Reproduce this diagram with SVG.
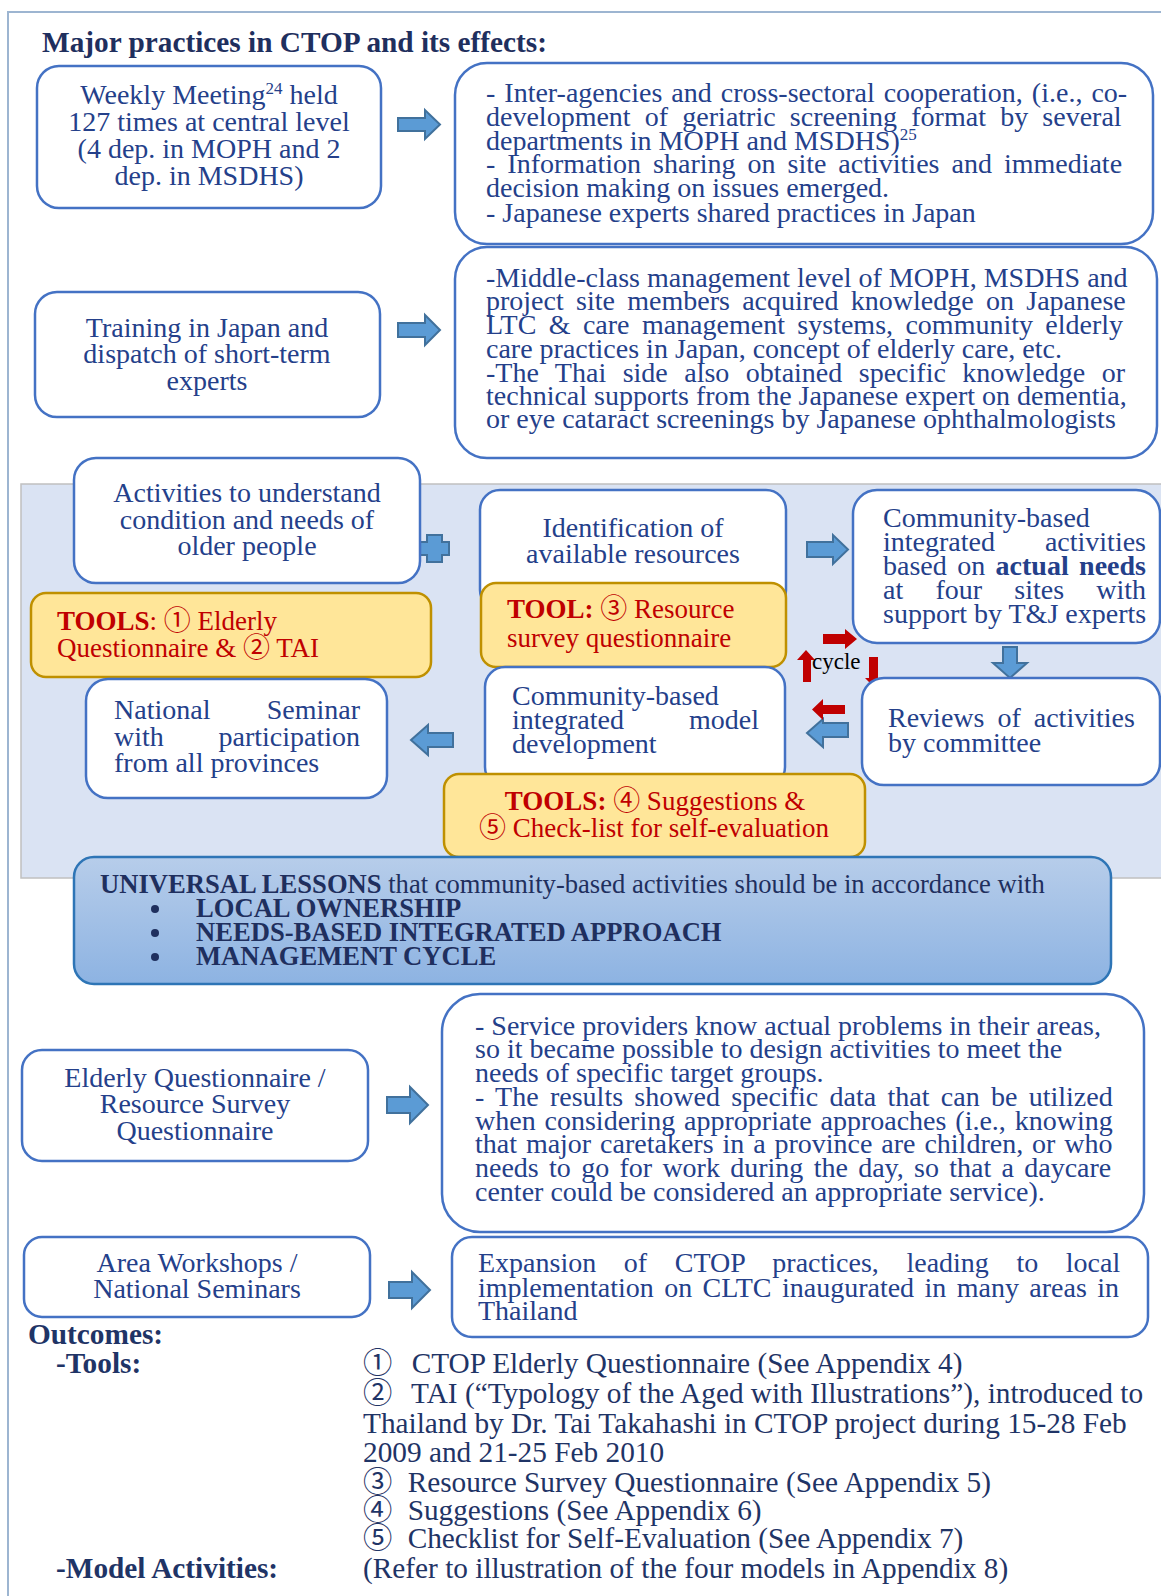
<svg xmlns="http://www.w3.org/2000/svg" width="1161" height="1596" viewBox="0 0 1161 1596">
  <defs>
    <linearGradient id="lessonFill" x1="0" y1="0" x2="0" y2="1">
      <stop offset="0" stop-color="#B7CDEA"/>
      <stop offset="1" stop-color="#8DB3E2"/>
    </linearGradient>
    <style>
      text { font-family: "Liberation Serif", "Noto Sans CJK JP", serif; }
      .box { fill: #FFFFFF; stroke: #4472C4; stroke-width: 2.5; }
      .tool { fill: #FFE699; stroke: #BF9000; stroke-width: 2.5; }
      .t { font-size: 28px; fill: #24408A; }
      .c { text-anchor: middle; }
      .e { text-anchor: end; }
      .red { font-size: 27px; fill: #C00000; }
      .b { font-weight: bold; }
      .barrow { fill: #5B9BD5; stroke: #41719C; stroke-width: 2; stroke-linejoin: miter; }
      .rarrow { fill: #C00000; stroke: none; }
      .navy { fill: #1F2F5E; }
      .out { font-size: 29.3px; fill: #1F3466; }
      .sup { font-size: 17px; }
    </style>
  </defs>

  <rect width="1161" height="1596" fill="#FFFFFF"/>

  <!-- frame -->
  <path d="M8 1596 V12 H1161" fill="none" stroke="#9DB5D1" stroke-width="2"/>

  <!-- heading -->
  <text x="42" y="52" class="b navy" font-size="29.3">Major practices in CTOP and its effects:</text>

  <!-- shaded band behind the activity cycle -->
  <rect x="21" y="484" width="1145" height="394" fill="#DAE3F3" stroke="#C0C0C0" stroke-width="1.5"/>

  <!-- connectors -->
  <g id="connectors">
    <!-- weekly meeting -> effects -->
    <path class="barrow" d="M398 118 H425 V110 L440 124.5 L425 139 V131 H398 Z"/>
    <!-- training -> effects -->
    <path class="barrow" d="M398 323 H425 V315 L440 330 L425 345 V337 H398 Z"/>
    <!-- plus between understanding and identification -->
    <path class="barrow" d="M427 535 H442 V542 H449 V555 H442 V562 H427 V555 H418 V542 H427 Z"/>
    <!-- identification -> activities -->
    <path class="barrow" d="M807 542 H833 V535 L848 549.5 L833 564 V557 H807 Z"/>
    <!-- activities -> reviews -->
    <path class="barrow" d="M1003 647 H1017 V663 H1027 L1010 678 L993 663 H1003 Z"/>
    <!-- reviews -> model development -->
    <path class="barrow" d="M848 723 H823 V719 L807 733 L823 747 V737 H848 Z"/>
    <!-- model development -> national seminar -->
    <path class="barrow" d="M453 733 H428 V725 L411 740 L428 755 V747 H453 Z"/>
    <!-- elderly questionnaire -> results -->
    <path class="barrow" d="M387 1097 H410 V1087 L428 1105 L410 1123 V1113 H387 Z"/>
    <!-- area workshops -> expansion -->
    <path class="barrow" d="M389 1282 H412 V1272 L430 1290 L412 1308 V1298 H389 Z"/>

    <!-- management cycle (red) -->
    <path class="rarrow" d="M823 634 H845 V629 L857 639 L845 649 V644 H823 Z"/>
    <path class="rarrow" d="M869 657 H878 V678 H883 L874 687 L865 678 H869 Z"/>
    <path class="rarrow" d="M845 705 H823 V699 L812 709.5 L823 720 V714 H845 Z"/>
    <path class="rarrow" d="M803 682 H811 V660 H815 L806 650 L797 660 H803 Z"/>
    <text x="812" y="669" font-size="23" fill="#000000">cycle</text>
  </g>

  <!-- weekly meeting -->
  <g id="weekly-meeting">
    <rect class="box" x="37" y="66" width="344" height="142" rx="22"/>
    <text class="t c" x="209" y="104">Weekly Meeting<tspan class="sup" dy="-10">24</tspan><tspan dy="10"> held</tspan></text>
    <text class="t c" x="209" y="131">127 times at central level</text>
    <text class="t c" x="209" y="158">(4 dep. in MOPH and 2</text>
    <text class="t c" x="209" y="185">dep. in MSDHS)</text>
  </g>

  <!-- weekly meeting effects -->
  <g id="meeting-effects">
    <rect class="box" x="455" y="63" width="698" height="181" rx="32"/>
    <text class="t" x="486" y="102" word-spacing="2">- Inter-agencies and cross-sectoral cooperation, (i.e., co-</text>
    <text class="t" x="486" y="126" word-spacing="7.2">development of geriatric screening format by several</text>
    <text class="t" x="486" y="150">departments in MOPH and MSDHS)<tspan class="sup" dy="-10">25</tspan></text>
    <text class="t" x="486" y="173" word-spacing="5">- Information sharing on site activities and immediate</text>
    <text class="t" x="486" y="197">decision making on issues emerged.</text>
    <text class="t" x="486" y="222">- Japanese experts shared practices in Japan</text>
  </g>

  <!-- training -->
  <g id="training">
    <rect class="box" x="35" y="292" width="345" height="125" rx="22"/>
    <text class="t c" x="207" y="337">Training in Japan and</text>
    <text class="t c" x="207" y="363">dispatch of short-term</text>
    <text class="t c" x="207" y="390">experts</text>
  </g>

  <!-- training effects -->
  <g id="training-effects">
    <rect class="box" x="455" y="247" width="702" height="211" rx="32"/>
    <text class="t" x="486" y="287">-Middle-class management level of MOPH, MSDHS and</text>
    <text class="t" x="486" y="310" word-spacing="5.3">project site members acquired knowledge on Japanese</text>
    <text class="t" x="486" y="334" word-spacing="5.4">LTC &amp; care management systems, community elderly</text>
    <text class="t" x="486" y="358">care practices in Japan, concept of elderly care, etc.</text>
    <text class="t" x="486" y="382" word-spacing="9.5">-The Thai side also obtained specific knowledge or</text>
    <text class="t" x="486" y="405">technical supports from the Japanese expert on dementia,</text>
    <text class="t" x="486" y="428">or eye cataract screenings by Japanese ophthalmologists</text>
  </g>

  <!-- understanding older people -->
  <g id="understand-needs">
    <rect class="box" x="74" y="458" width="346" height="125" rx="22"/>
    <text class="t c" x="247" y="502">Activities to understand</text>
    <text class="t c" x="247" y="529">condition and needs of</text>
    <text class="t c" x="247" y="555">older people</text>
  </g>

  <!-- tools 1 and 2 -->
  <g id="tools-1-2">
    <rect class="tool" x="31" y="593" width="400" height="84" rx="15"/>
    <text class="red" x="57" y="630"><tspan class="b">TOOLS</tspan>: ① Elderly</text>
    <text class="red" x="57" y="657">Questionnaire &amp; ② TAI</text>
  </g>

  <!-- identification of resources -->
  <g id="identify-resources">
    <rect class="box" x="480" y="490" width="306" height="120" rx="20"/>
    <text class="t c" x="633" y="537">Identification of</text>
    <text class="t c" x="633" y="563">available resources</text>
  </g>

  <!-- tool 3 -->
  <g id="tool-3">
    <rect class="tool" x="481" y="583" width="305" height="84" rx="15"/>
    <text class="red" x="507" y="618"><tspan class="b">TOOL:</tspan> ③ Resource</text>
    <text class="red" x="507" y="647">survey questionnaire</text>
  </g>

  <!-- community activities -->
  <g id="community-activities">
    <rect class="box" x="853" y="490" width="307" height="153" rx="24"/>
    <text class="t" x="883" y="527">Community-based</text>
    <text class="t" x="883" y="551">integrated</text>
    <text class="t e" x="1146" y="551">activities</text>
    <text class="t" x="883" y="575" word-spacing="3.4">based on <tspan class="b">actual needs</tspan></text>
    <text class="t" x="883" y="599" word-spacing="25.2">at four sites with</text>
    <text class="t" x="883" y="623">support by T&amp;J experts</text>
  </g>

  <!-- reviews -->
  <g id="reviews">
    <rect class="box" x="862" y="678" width="298" height="107" rx="22"/>
    <text class="t" x="888" y="727" word-spacing="6">Reviews of activities</text>
    <text class="t" x="888" y="752">by committee</text>
  </g>

  <!-- model development -->
  <g id="model-development">
    <rect class="box" x="485" y="667" width="300" height="120" rx="20"/>
    <text class="t" x="512" y="705">Community-based</text>
    <text class="t" x="512" y="729">integrated</text>
    <text class="t e" x="759" y="729">model</text>
    <text class="t" x="512" y="753">development</text>
  </g>

  <!-- tools 4 and 5 -->
  <g id="tools-4-5">
    <rect class="tool" x="444" y="774" width="421" height="83" rx="15"/>
    <text class="red c" x="655" y="810"><tspan class="b">TOOLS:</tspan> ④ Suggestions &amp;</text>
    <text class="red c" x="654" y="837">⑤ Check-list for self-evaluation</text>
  </g>

  <!-- national seminar -->
  <g id="national-seminar">
    <rect class="box" x="86" y="679" width="301" height="119" rx="22"/>
    <text class="t" x="114" y="719">National</text>
    <text class="t e" x="360" y="719">Seminar</text>
    <text class="t" x="114" y="746">with</text>
    <text class="t e" x="360" y="746">participation</text>
    <text class="t" x="114" y="772">from all provinces</text>
  </g>

  <!-- universal lessons -->
  <g id="universal-lessons">
    <rect x="74" y="857" width="1037" height="127" rx="20" fill="url(#lessonFill)" stroke="#2E75B6" stroke-width="2.5"/>
    <text class="navy" x="100" y="893" font-size="26.6"><tspan class="b">UNIVERSAL LESSONS</tspan> that community-based activities should be in accordance with</text>
    <g class="navy" font-size="26.6">
      <circle cx="155" cy="909" r="4"/>
      <circle cx="155" cy="933" r="4"/>
      <circle cx="155" cy="957" r="4"/>
      <text class="b" x="196" y="917">LOCAL OWNERSHIP</text>
      <text class="b" x="196" y="941">NEEDS-BASED INTEGRATED APPROACH</text>
      <text class="b" x="196" y="965">MANAGEMENT CYCLE</text>
    </g>
  </g>

  <!-- questionnaires -->
  <g id="questionnaires">
    <rect class="box" x="22" y="1050" width="346" height="111" rx="20"/>
    <text class="t c" x="195" y="1087">Elderly Questionnaire /</text>
    <text class="t c" x="195" y="1113">Resource Survey</text>
    <text class="t c" x="195" y="1140">Questionnaire</text>
  </g>

  <!-- questionnaire results -->
  <g id="questionnaire-results">
    <rect class="box" x="442" y="994" width="702" height="238" rx="38"/>
    <text class="t" x="475" y="1035">- Service providers know actual problems in their areas,</text>
    <text class="t" x="475" y="1058">so it became possible to design activities to meet the</text>
    <text class="t" x="475" y="1082">needs of specific target groups.</text>
    <text class="t" x="475" y="1106" word-spacing="4.3">- The results showed specific data that can be utilized</text>
    <text class="t" x="475" y="1130" word-spacing="1.9">when considering appropriate approaches (i.e., knowing</text>
    <text class="t" x="475" y="1153" word-spacing="1.9">that major caretakers in a province are children, or who</text>
    <text class="t" x="475" y="1177" word-spacing="3.3">needs to go for work during the day, so that a daycare</text>
    <text class="t" x="475" y="1201">center could be considered an appropriate service).</text>
  </g>

  <!-- workshops -->
  <g id="workshops">
    <rect class="box" x="24" y="1237" width="346" height="80" rx="18"/>
    <text class="t c" x="197" y="1272">Area Workshops /</text>
    <text class="t c" x="197" y="1298">National Seminars</text>
  </g>

  <!-- expansion -->
  <g id="expansion">
    <rect class="box" x="452" y="1237" width="696" height="100" rx="20"/>
    <text class="t" x="478" y="1272" word-spacing="20.6">Expansion of CTOP practices, leading to local</text>
    <text class="t" x="478" y="1297" word-spacing="3.4">implementation on CLTC inaugurated in many areas in</text>
    <text class="t" x="478" y="1320">Thailand</text>
  </g>

  <!-- outcomes -->
  <g id="outcomes">
    <text class="out b" x="28" y="1344">Outcomes:</text>
    <text class="out b" x="56" y="1373">-Tools:</text>
    <text class="out" x="363" y="1373">① <tspan dx="12">CTOP Elderly Questionnaire (See Appendix 4)</tspan></text>
    <text class="out" x="363" y="1403">② <tspan dx="12">TAI (“Typology of the Aged with Illustrations”), introduced to</tspan></text>
    <text class="out" x="363" y="1433">Thailand by Dr. Tai Takahashi in CTOP project during 15-28 Feb</text>
    <text class="out" x="363" y="1462">2009 and 21-25 Feb 2010</text>
    <text class="out" x="363" y="1492">③ <tspan dx="8">Resource Survey Questionnaire (See Appendix 5)</tspan></text>
    <text class="out" x="363" y="1520">④ <tspan dx="8">Suggestions (See Appendix 6)</tspan></text>
    <text class="out" x="363" y="1548">⑤ <tspan dx="8">Checklist for Self-Evaluation (See Appendix 7)</tspan></text>
    <text class="out b" x="56" y="1578">-Model Activities:</text>
    <text class="out" x="363" y="1578">(Refer to illustration of the four models in Appendix 8)</text>
  </g>
</svg>
